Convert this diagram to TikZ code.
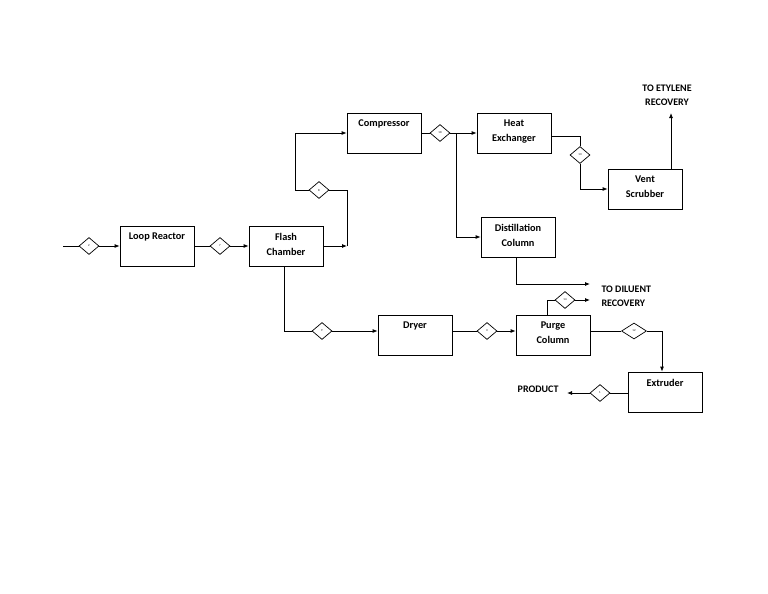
\documentclass[tikz,border=0pt]{standalone}
\usepackage{fontspec}
\setmainfont{Carlito}
\usetikzlibrary{shapes.geometric,arrows.meta}

\begin{document}
\begin{tikzpicture}[x=1pt,y=-1pt,
    unit/.style={draw,line width=0.8pt,minimum width=74pt,minimum height=40pt,inner sep=0pt},
    txt/.style={anchor=north,yshift=-4pt,align=center,font=\bfseries\fontsize{10.3}{15}\selectfont},
    tag/.style={draw,diamond,fill=white,line width=0.7pt,minimum width=20pt,minimum height=17pt,inner sep=0pt,font=\fontsize{3}{3}\selectfont},
    line/.style={line width=0.8pt},
    flow/.style={line,-{Latex[length=5pt,width=4pt]}},
    note/.style={font=\bfseries\fontsize{10}{14}\selectfont,align=center}]
    \useasboundingbox (0,0) rectangle (768,594);
    % units
    \node[unit,label={[txt]north:Loop Reactor}] (loop) at (157,246) {};
    \node[unit,label={[txt]north:Flash\\Chamber}] (flash) at (286,246) {};
    \node[unit,label={[txt]north:Compressor}] (comp) at (384,133) {};
    \node[unit,label={[txt]north:Heat\\Exchanger}] (hx) at (514,133) {};
    \node[unit,label={[txt]north:Vent\\Scrubber}] (vent) at (645,189) {};
    \node[unit,label={[txt]north:Distillation\\Column}] (dist) at (518,237) {};
    \node[unit,label={[txt]north:Dryer}] (dryer) at (415,335) {};
    \node[unit,label={[txt]north:Purge\\Column}] (purge) at (553,335) {};
    \node[unit,label={[txt]north:Extruder}] (ext) at (665,392) {};
    % stream tags
    \node[tag] (d2) at (89,246) {2};
    \node[tag] (d7) at (220,246) {7};
    \node[tag] (d8) at (319,190) {8};
    \node[tag] (d10) at (440,133) {10};
    \node[tag] (d13) at (580,155) {13};
    \node[tag] (d9) at (322,331) {9};
    \node[tag] (d3) at (487,331) {3};
    \node[tag] (d14) at (565,300) {14};
    \node[tag,minimum width=25pt,minimum height=16pt] (d12) at (634,331) {12};
    \node[tag] (d1) at (600,393) {1};
    % free ends
    \coordinate (feed) at (63,246);
    \coordinate (j1) at (347,246);
    \coordinate (j2) at (347,190);
    \coordinate (j3) at (295,190);
    \coordinate (j4) at (295,133);
    \coordinate (j5) at (456,133);
    \coordinate (j6) at (580,136);
    \coordinate (j7) at (671,113);
    \coordinate (dil) at (590,284);
    \coordinate (r14) at (590,300);
    \coordinate (prod) at (567,393);
    % labels
    \node[note] (eth) at (667,95) {TO ETYLENE\\RECOVERY};
    \node[note,anchor=west,align=left] (dln) at (598,296) {TO DILUENT\\RECOVERY};
    \node[note,anchor=east] (pr) at (562,389) {PRODUCT};
    % streams
    \draw[flow] (feed) -- (d2) -- (loop);
    \draw[flow] (loop) -- (d7) -- (flash);
    \draw[flow] (flash) -- (j1);
    \draw[flow] (j1) -- (j2) -- (d8) -- (j3) -- (j4) -- (comp);
    \draw[flow] (comp) -- (d10) -- (hx);
    \draw[flow] (j5) |- (dist);
    \draw[line] (hx.east |- j6) -- (j6) -- (d13);
    \draw[flow] (d13) |- (vent);
    \draw[flow] (j7 |- vent.north) -- (j7);
    \draw[flow] ([xshift=-2pt]dist.south) |- (dil);
    \draw[flow] ([xshift=-2pt]flash.south) |- (d9) -- (dryer.west |- d9);
    \draw[flow] (dryer.east |- d3) -- (d3) -- (purge.west |- d3);
    \draw[flow] ([xshift=-5.5pt]purge.north) |- (d14) -- (r14);
    \draw[flow] (purge.east |- d12) -- (d12) -| ([xshift=-3pt]ext.north);
    \draw[flow] (ext.west |- d1) -- (d1) -- (prod);
\end{tikzpicture}
\end{document}
